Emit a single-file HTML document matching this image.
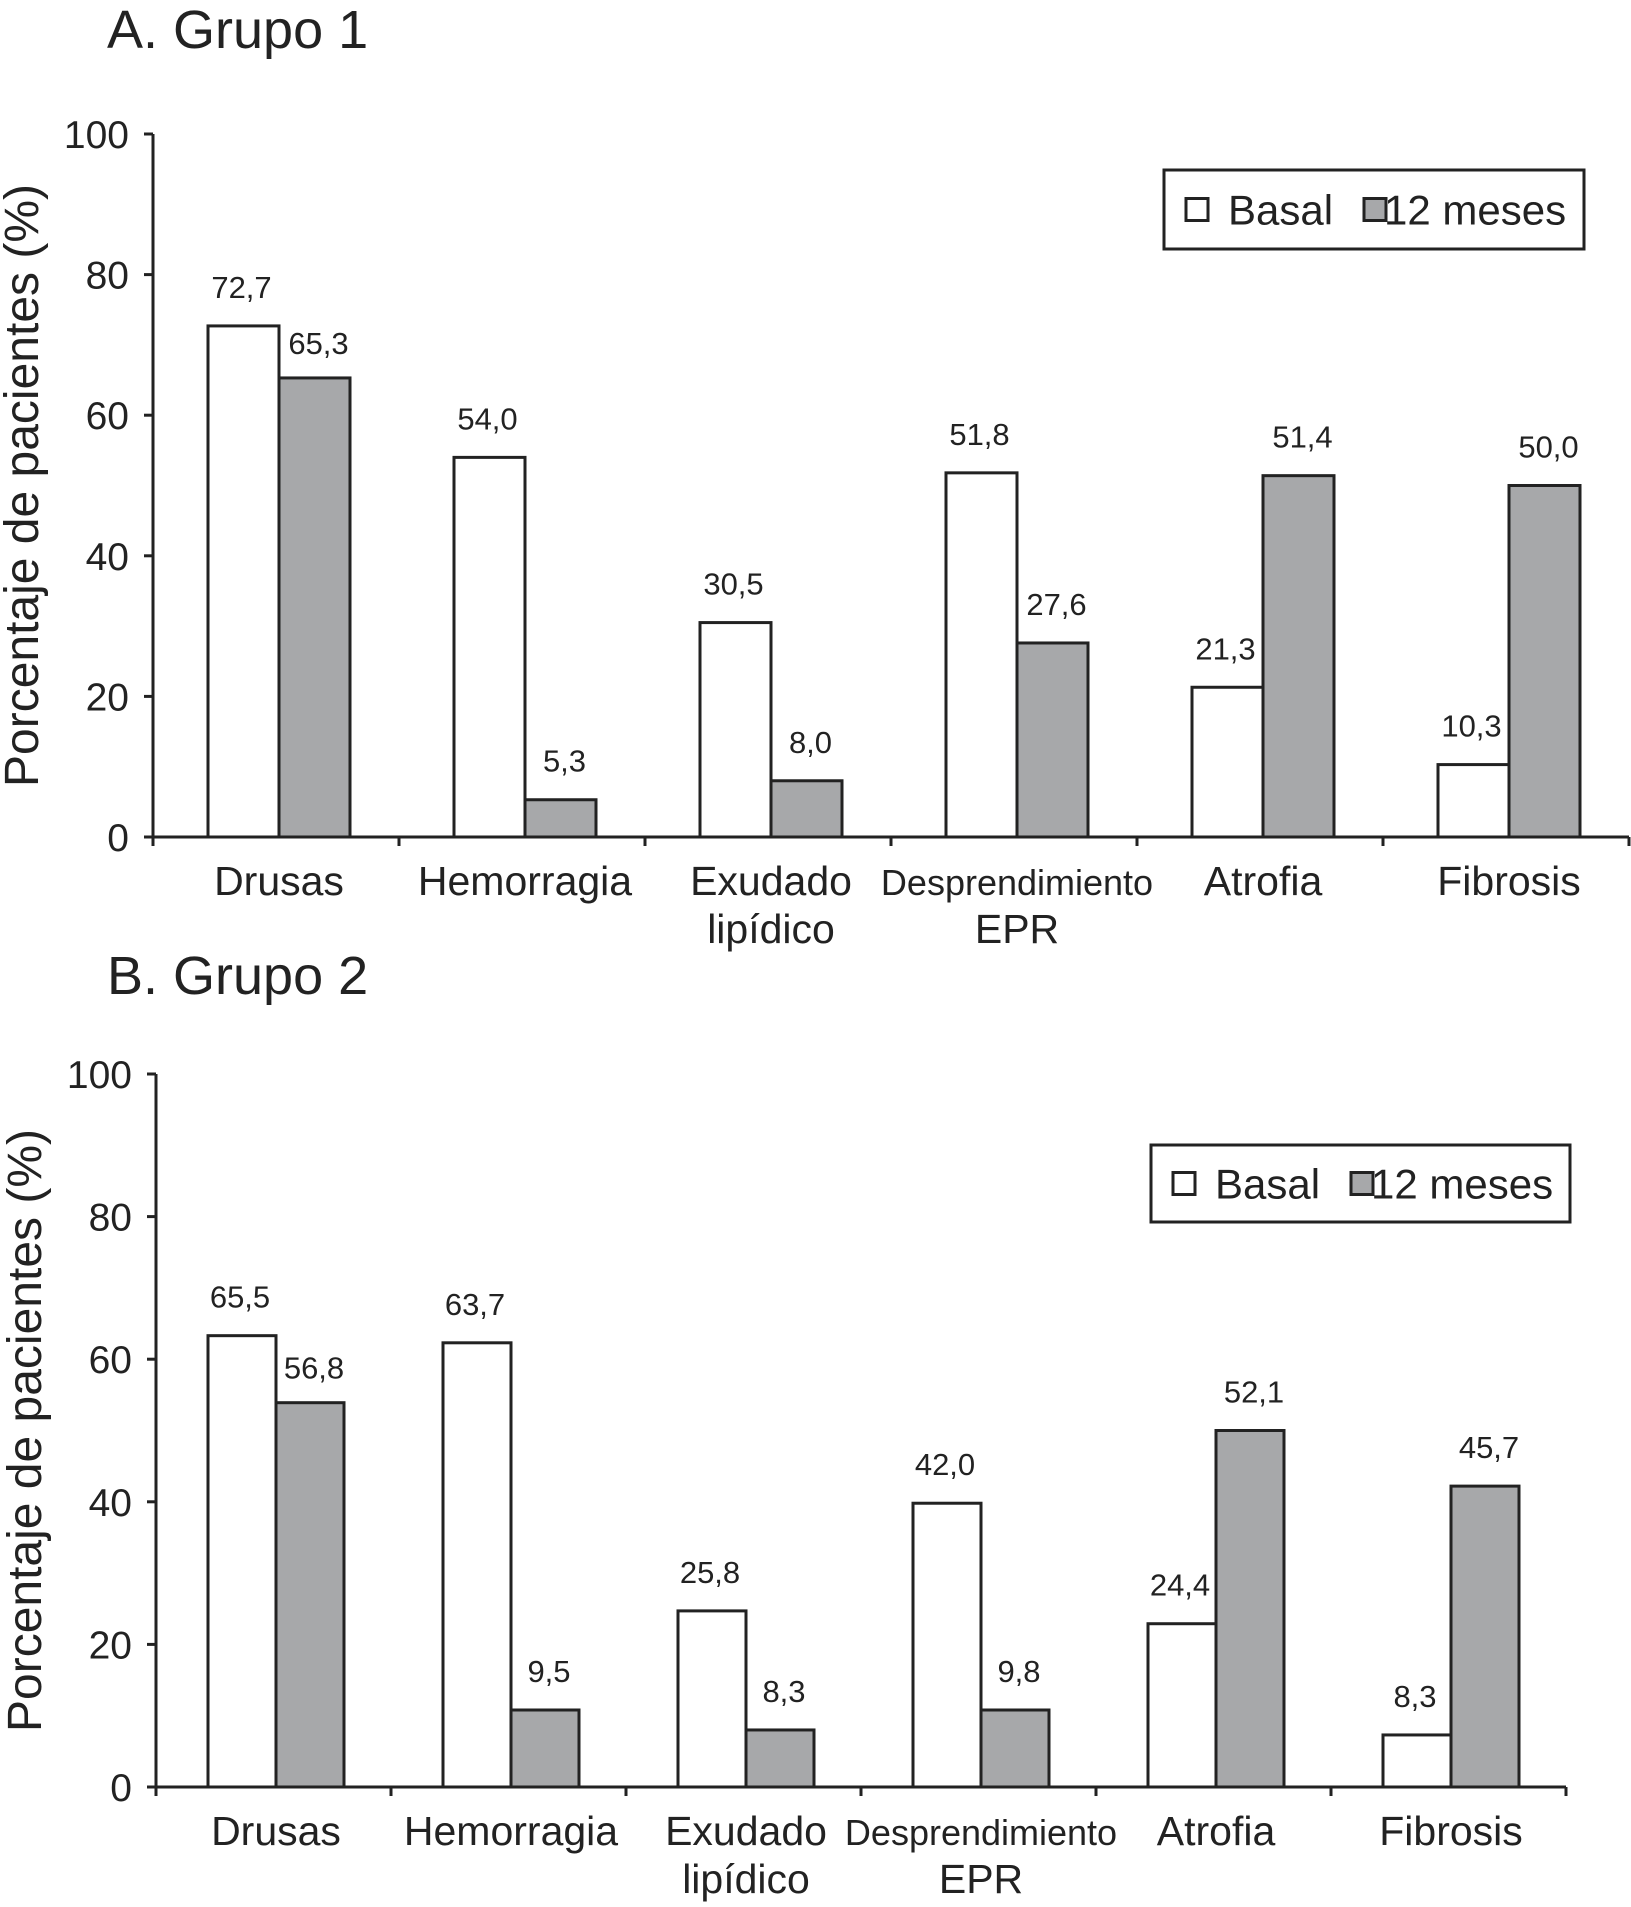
<!DOCTYPE html>
<html><head><meta charset="utf-8"><style>
html,body{margin:0;padding:0;background:#fff;}
svg{display:block;font-family:"Liberation Sans",sans-serif;}
</style></head><body>
<svg id="fig" width="1631" height="1907" viewBox="0 0 1631 1907" xmlns="http://www.w3.org/2000/svg"></svg>
<script>
const categories = ["Drusas","Hemorragia","Exudado|lipídico","Desprendimiento|EPR","Atrofia","Fibrosis"];
const yTicks = [0,20,40,60,80,100];
const g1Basal = [72.7,54.0,30.5,51.8,21.3,10.3];
const g1Mes12 = [65.3,5.3,8.0,27.6,51.4,50.0];
const g1BasalLabels = ["72,7","54,0","30,5","51,8","21,3","10,3"];
const g1Mes12Labels = ["65,3","5,3","8,0","27,6","51,4","50,0"];
const g2Basal = [63.3,62.3,24.7,39.8,22.9,7.3];
const g2Mes12 = [53.9,10.8,8.0,10.8,50.0,42.2];
const g2BasalLabels = ["65,5","63,7","25,8","42,0","24,4","8,3"];
const g2Mes12Labels = ["56,8","9,5","8,3","9,8","52,1","45,7"];

const NS="http://www.w3.org/2000/svg";
const svg=document.getElementById('fig');
function mk(tag,attrs,parent){const e=document.createElementNS(NS,tag);for(const k in attrs)e.setAttribute(k,attrs[k]);(parent||svg).appendChild(e);return e;}

function chart(cfg){
  const g=mk('g',{});
  
  
  const y=v=>cfg.y0-(cfg.y0-cfg.y100)*v/100;
  const catX=i=>cfg.x0+i*cfg.cw;
  const t=mk('text',{x:cfg.titleX,y:cfg.titleY,'font-size':54,fill:'#222'},g);
  t.textContent=cfg.title;
  
  
  const yt=mk('text',{x:0,y:0,'font-size':48,fill:'#222','text-anchor':'middle',transform:`translate(${cfg.x0-115},${(cfg.y0+cfg.y100)/2}) rotate(-90)`},g);
  yt.textContent='Porcentaje de pacientes (%)';
  
  
  const ya=mk('line',{x1:cfg.x0,y1:cfg.y100,x2:cfg.x0,y2:cfg.y0+8,stroke:'#222','stroke-width':3},g);
  
  
  yTicks.forEach(v=>{
    const tk=mk('line',{x1:cfg.x0-9,y1:y(v),x2:cfg.x0,y2:y(v),stroke:'#222','stroke-width':3},g);
    
    
    const tl=mk('text',{x:cfg.x0-24,y:y(v)+14,'font-size':39,'text-anchor':'end',fill:'#222'},g);
    tl.textContent=v;
    
    
  });
  const xa=mk('line',{x1:cfg.x0,y1:cfg.y0,x2:catX(categories.length),y2:cfg.y0,stroke:'#222','stroke-width':3},g);
  
  
  for(let i=0;i<=categories.length;i++){
    const tk=mk('line',{x1:catX(i),y1:cfg.y0,x2:catX(i),y2:cfg.y0+9,stroke:'#222','stroke-width':3},g);
    
    
  }
  categories.forEach((c,i)=>{
    const cx=catX(i)+cfg.off+cfg.bw;
    const lines=c.split('|');
    lines.forEach((ln,j)=>{
      const tl=mk('text',{x:cx,y:cfg.y0+58+j*48,'font-size':ln.length>12?36:41,'text-anchor':'middle',fill:'#222'},g);
      tl.textContent=ln;
      
      
    });
    [[cfg.basal,cfg.bl,'#fff','bar-basal',0],[cfg.mes,cfg.ml,'#a7a8aa','bar-12-meses',1]].forEach(([arr,lab,fill,nm,k])=>{
      const bx=catX(i)+cfg.off+k*cfg.bw;
      const r=mk('rect',{x:bx,y:y(arr[i]),width:cfg.bw,height:cfg.y0-y(arr[i]),fill:fill,stroke:'#222','stroke-width':3},g);
      
      
      const vl=mk('text',{x:bx+cfg.bw/2+(k?4:-2),y:y(arr[i])-(k&&i===0?24:28),'font-size':31,'text-anchor':'middle',fill:'#222'},g);
      vl.textContent=lab[i];
      
      
    });
  });
  const L=cfg.leg;
  const lg=mk('g',{},g);
  
  
  mk('rect',{x:L[0],y:L[1],width:L[2],height:L[3],fill:'#fff',stroke:'#222','stroke-width':3},lg);
  const my=L[1]+L[3]/2;
  mk('rect',{x:L[0]+22,y:my-11,width:22,height:22,fill:'#fff',stroke:'#222','stroke-width':3},lg);
  const a=mk('text',{x:L[0]+64,y:my+15,'font-size':42,fill:'#222'},lg);
  a.textContent='Basal';
  
  
  mk('rect',{x:L[0]+200,y:my-11,width:22,height:22,fill:'#a7a8aa',stroke:'#222','stroke-width':3},lg);
  const b=mk('text',{x:L[0]+220,y:my+15,'font-size':42,fill:'#222'},lg);
  b.textContent='12 meses';
  
  
}
chart({name:'chart-grupo-1',title:'A. Grupo 1',titleX:107,titleY:48,x0:153,y0:837,y100:134,cw:246,off:55,bw:71,
  basal:g1Basal,mes:g1Mes12,bl:g1BasalLabels,ml:g1Mes12Labels,leg:[1164,170,420,79]});
chart({name:'chart-grupo-2',title:'B. Grupo 2',titleX:107,titleY:994,x0:156,y0:1787,y100:1074,cw:235,off:52,bw:68,
  basal:g2Basal,mes:g2Mes12,bl:g2BasalLabels,ml:g2Mes12Labels,leg:[1151,1145,419,77]});
</script>
</body></html>
